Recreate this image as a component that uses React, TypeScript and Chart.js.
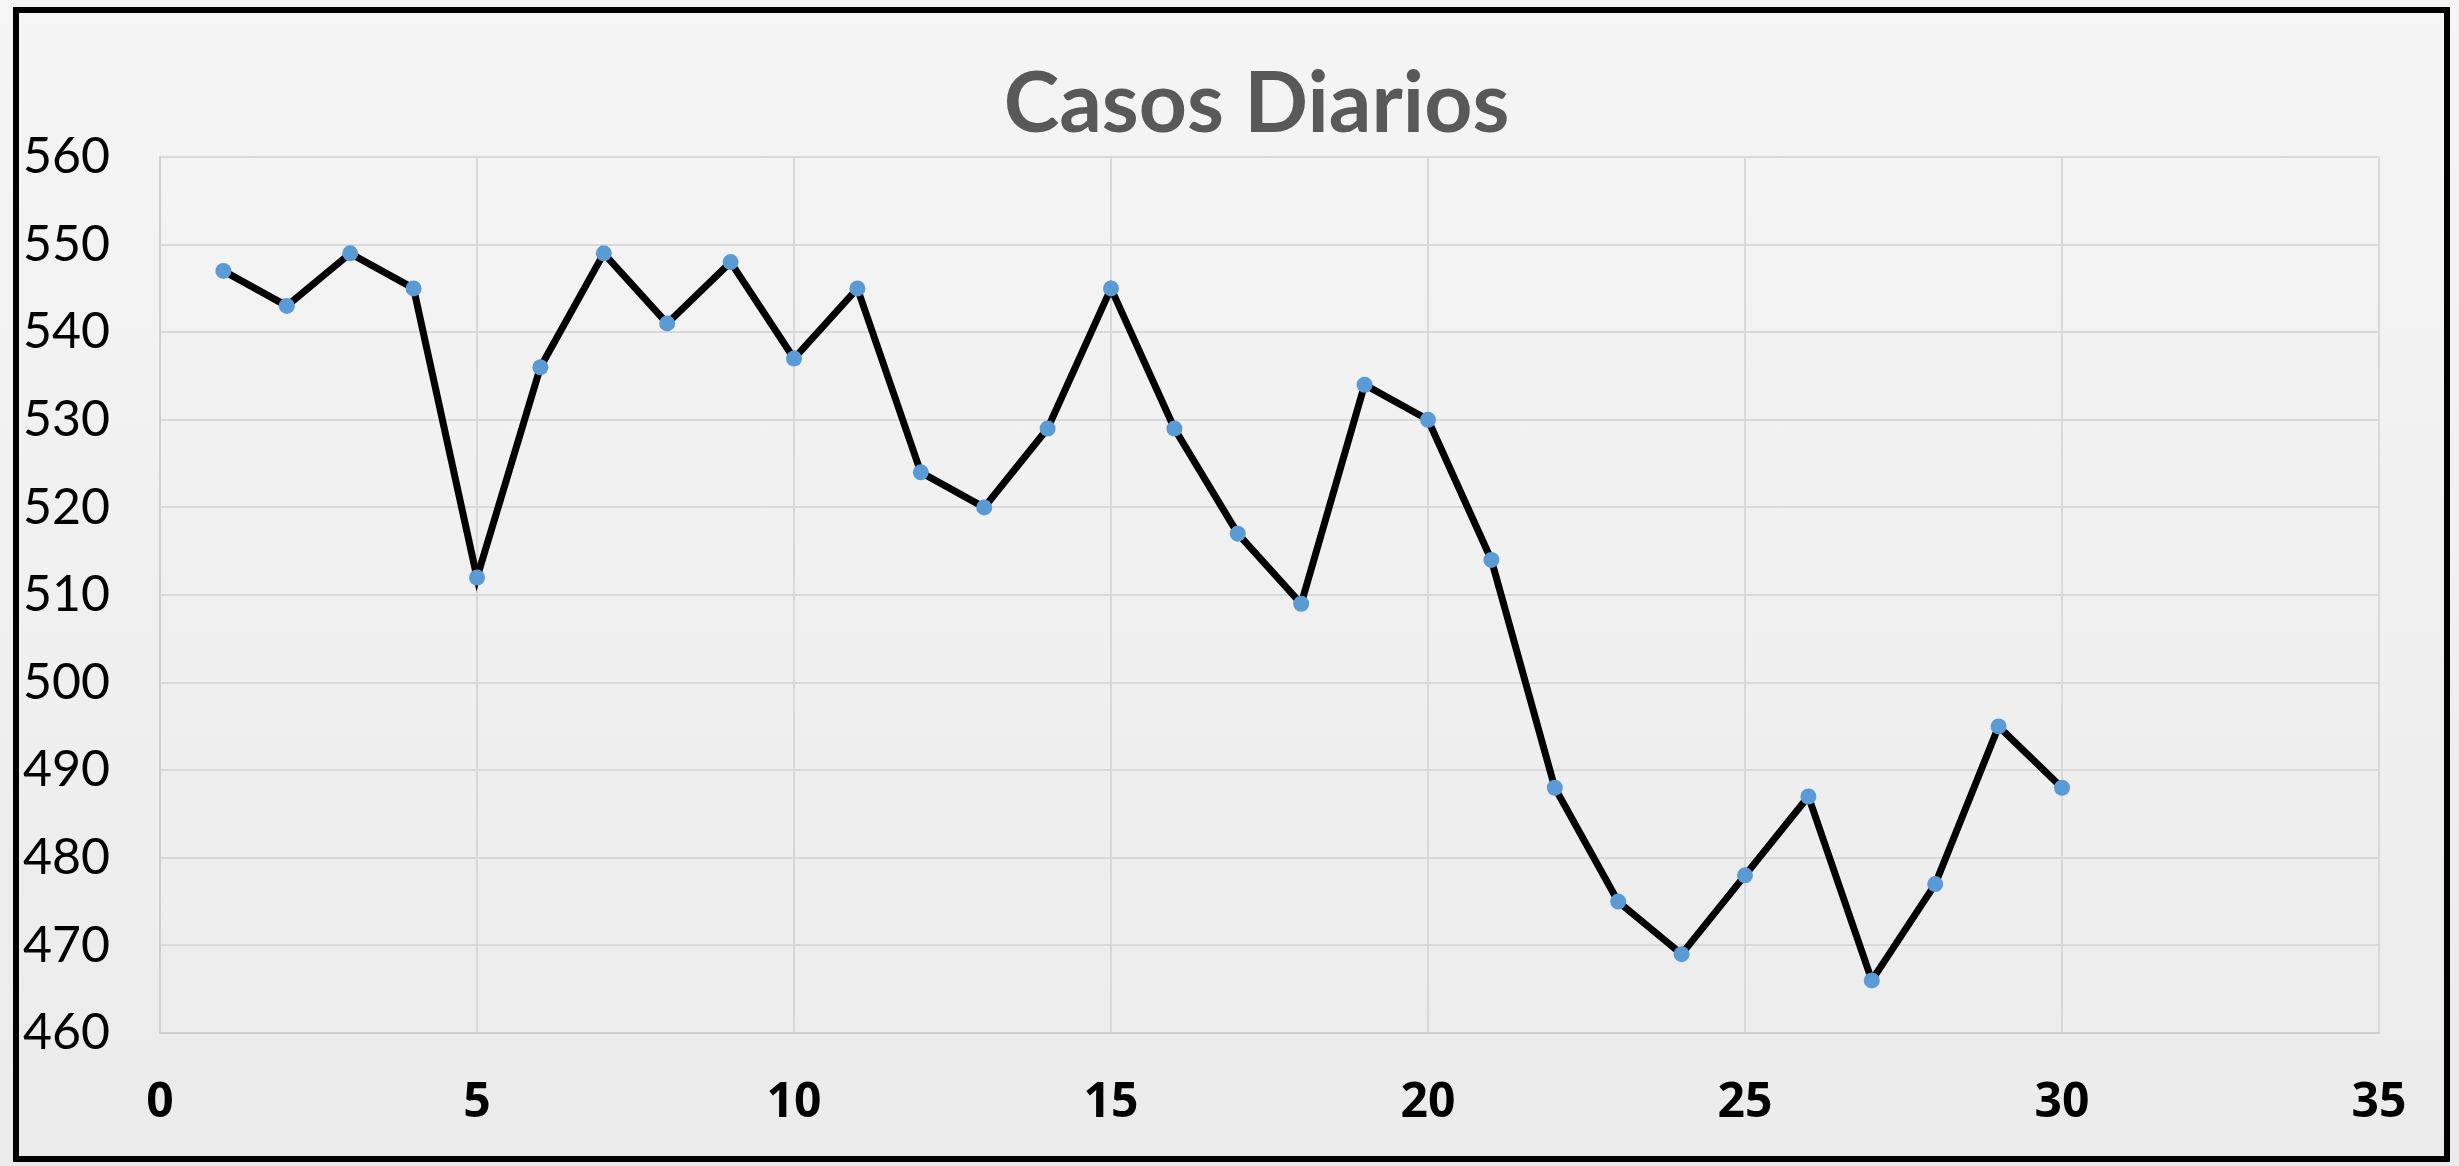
import React, { useEffect, useRef } from "react";
import { Chart, registerables } from "chart.js";

Chart.register(...registerables);

const days = [1, 2, 3, 4, 5, 6, 7, 8, 9, 10, 11, 12, 13, 14, 15, 16, 17, 18, 19, 20, 21, 22, 23, 24, 25, 26, 27, 28, 29, 30];
const cases = [547, 543, 549, 545, 512, 536, 549, 541, 548, 537, 545, 524, 520, 529, 545, 529, 517, 509, 534, 530, 514, 488, 475, 469, 478, 487, 466, 477, 495, 488];
const xTickValues = [0, 5, 10, 15, 20, 25, 30, 35];
const yTickValues = [460, 470, 480, 490, 500, 510, 520, 530, 540, 550, 560];
const chartTitle = "Casos Diarios";

const titlePlugin = {
  id: "centeredTitle",
  afterDraw(chart: any) {
    const { ctx, chartArea } = chart;
    ctx.save();
    ctx.fillStyle = "#595959";
    ctx.font = "bold 84px Lato, 'Open Sans', sans-serif";
    ctx.textAlign = "center";
    ctx.textBaseline = "middle";
    const cx = (chartArea.left + chartArea.right) / 2 - 13;
    ctx.fillText(chartTitle, cx, chartArea.top - 52);
    ctx.restore();
  },
};

export default function App() {
  const ref = useRef<HTMLCanvasElement>(null);

  useEffect(() => {
    if (!ref.current) return;
    const chart = new Chart(ref.current, {
      type: "line",
      data: {
        datasets: [
          {
            data: days.map((d, i) => ({ x: d, y: cases[i] })),
            borderColor: "#000000",
            borderWidth: 7,
            pointRadius: 8,
            pointBackgroundColor: "#5b9bd5",
            pointBorderWidth: 0,
            tension: 0,
          },
        ],
      },
      plugins: [titlePlugin],
      options: {
        animation: false,
        responsive: false,
        maintainAspectRatio: false,
        layout: { padding: { left: 0, right: 80, top: 157, bottom: 0 } },
        plugins: {
          legend: { display: false },
          tooltip: { enabled: false },
          title: { display: false },
        },
        scales: {
          x: {
            type: "linear",
            min: 0,
            max: 35,
            afterBuildTicks: (s: any) => {
              s.ticks = xTickValues.map((v) => ({ value: v }));
            },
            afterFit: (s: any) => {
              s.height = 133;
            },
            grid: { color: "#d9d9d9", lineWidth: 2, drawTicks: false },
            border: { color: "#d0d0d0", width: 2 },
            ticks: {
              color: "#000000",
              padding: 42,
              font: { family: "'Open Sans', sans-serif", weight: "bold", size: 48 },
            },
          },
          y: {
            type: "linear",
            min: 460,
            max: 560,
            afterBuildTicks: (s: any) => {
              s.ticks = yTickValues.map((v) => ({ value: v }));
            },
            afterFit: (s: any) => {
              s.width = 160;
            },
            grid: { color: "#d9d9d9", lineWidth: 2, drawTicks: false },
            border: { color: "#d0d0d0", width: 2 },
            ticks: {
              color: "#000000",
              padding: 50,
              font: { family: "Lato, 'Open Sans', sans-serif", weight: "normal", size: 50 },
            },
          },
        },
      },
    } as any);
    return () => chart.destroy();
  }, []);

  return (
    <div
      style={{
        position: "fixed",
        left: 0,
        top: 0,
        width: 2459,
        height: 1166,
        background: "linear-gradient(#f5f5f5, #ebebeb)",
      }}
    >
      <canvas ref={ref} width={2459} height={1166} style={{ position: "absolute", left: 0, top: 0 }} />
      <div
        style={{
          position: "absolute",
          left: 13,
          top: 7,
          width: 2437,
          height: 1155,
          border: "6px solid #000",
          boxSizing: "border-box",
          pointerEvents: "none",
        }}
      />
    </div>
  );
}
